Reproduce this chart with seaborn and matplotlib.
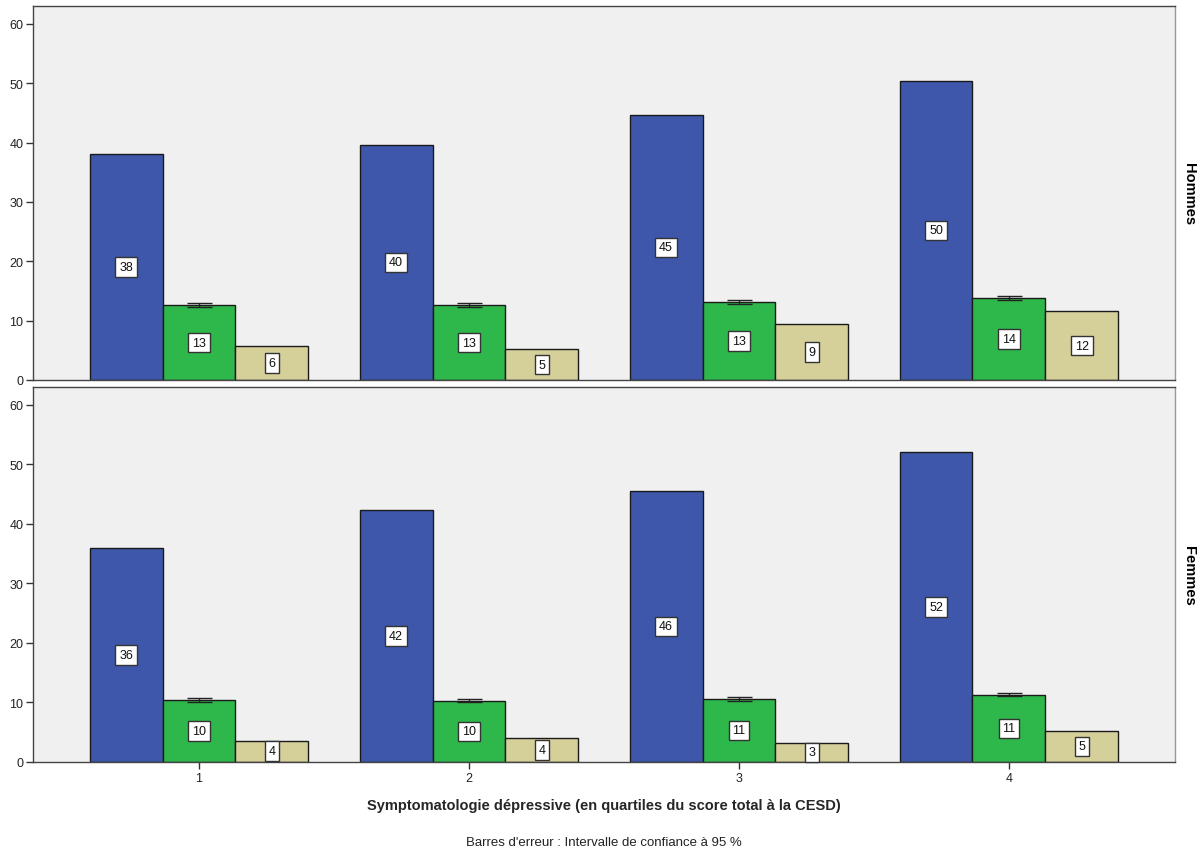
import pandas as pd
import matplotlib
matplotlib.use('Agg')
import matplotlib.pyplot as plt
import seaborn as sns

# 数据
quartiles = ['1', '2', '3', '4']
groupes = ['A', 'B', 'C']
hommes_a = [38.1, 39.6, 44.7, 50.4]
hommes_b = [12.6, 12.6, 13.2, 13.8]
hommes_c = [5.7, 5.2, 9.4, 11.6]
femmes_a = [35.9, 42.4, 45.6, 52.0]
femmes_b = [10.4, 10.3, 10.6, 11.3]
femmes_c = [3.6, 4.0, 3.2, 5.2]
# 绿色柱的 95% 置信区间半宽
hommes_b_err = [0.35, 0.35, 0.35, 0.35]
femmes_b_err = [0.3, 0.3, 0.3, 0.3]
panneaux = ['Hommes', 'Femmes']

colors = ['#3E57AB', '#2EB84B', '#D5CF9A']

rows = []
for sexe, vals in [('Hommes', [hommes_a, hommes_b, hommes_c]),
                   ('Femmes', [femmes_a, femmes_b, femmes_c])]:
    for g, serie in zip(groupes, vals):
        for q, v in zip(quartiles, serie):
            rows.append({'sexe': sexe, 'groupe': g, 'quartile': q, 'valeur': v})
data = pd.DataFrame(rows)
errs = {'Hommes': hommes_b_err, 'Femmes': femmes_b_err}

sns.set_style('white')
plt.rcParams['font.family'] = ['Liberation Sans', 'DejaVu Sans']
plt.rcParams['text.color'] = 'black'
plt.rcParams['xtick.color'] = '#333333'
plt.rcParams['ytick.color'] = '#333333'

fig = plt.figure(figsize=(12.03, 8.54), dpi=100)
ax1 = fig.add_axes([0.0274, 0.5539, 0.9493, 0.4379])
ax2 = fig.add_axes([0.0274, 0.1066, 0.9493, 0.4391])

for ax, sexe in zip([ax1, ax2], panneaux):
    d = data[data.sexe == sexe]
    sns.barplot(x='quartile', y='valeur', hue='groupe', data=d, ax=ax,
                order=quartiles, hue_order=groupes, palette=colors,
                width=0.81, gap=0, errorbar=None, legend=False,
                edgecolor='#1a1a1a', linewidth=1, saturation=1)
    ax.set_facecolor('#F0F0F0')
    ax.set_xlim(-0.615, 3.615)
    ax.set_ylim(0, 63)
    ax.set_yticks([0, 10, 20, 30, 40, 50, 60])
    ax.tick_params(axis='y', labelsize=9, length=5, width=1, direction='out',
                   left=True, pad=2, labelcolor='#222222')
    ax.set_ylabel('')
    ax.set_xlabel('')
    for s in ax.spines.values():
        s.set_color('#444444')
        s.set_linewidth(1)
    ax.spines['right'].set_color('#999999')
    conts = list(ax.containers)
    # 绿色柱的误差线
    bars = conts[1]
    xs = [b.get_x() + b.get_width() / 2 for b in bars]
    ys = [b.get_height() for b in bars]
    ax.errorbar(xs, ys, yerr=errs[sexe], fmt='none', ecolor='#222222',
                elinewidth=1, capsize=9, capthick=1, zorder=5)
    # 柱内数值标签
    for cont in conts:
        labels = ['%.0f' % b.get_height() for b in cont]
        ax.bar_label(cont, labels=labels, label_type='center', fontsize=9,
                     color='#111111',
                     bbox=dict(boxstyle='square,pad=0.3', fc='white',
                               ec='#333333', lw=1))
    ax.text(1.012, 0.5, sexe, transform=ax.transAxes, rotation=-90,
            ha='center', va='center', fontsize=10.5, fontweight='bold')

ax1.set_xticks([])
ax2.set_xticks(range(4))
ax2.set_xticklabels(quartiles)
ax2.tick_params(axis='x', labelsize=9, length=5, width=1, direction='out',
                bottom=True, pad=2, labelcolor='#222222')
ax2.set_xlabel('Symptomatologie dépressive (en quartiles du score total à la CESD)',
               fontsize=10.5, fontweight='bold', labelpad=10)

fig.text(0.502, 0.006, "Barres d'erreur : Intervalle de confiance à 95 %",
         ha='center', va='bottom', fontsize=9.5, color='#222222',
         family=['Liberation Sans Narrow', 'Liberation Sans', 'DejaVu Sans'])

fig.savefig('out.png', dpi=100, facecolor='white')
